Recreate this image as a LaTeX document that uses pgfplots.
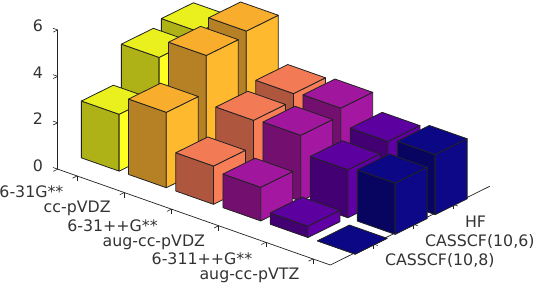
\documentclass[border=0pt]{standalone}
\usepackage{fontspec}
\setmainfont{DejaVu Sans}
\usepackage{pgfplots}
\pgfplotsset{compat=1.18}
\definecolor{txt}{gray}{0.2}
\definecolor{edge}{HTML}{222222}
% top / left (dark) / right (bright) colours per basis set
\definecolor{aT}{HTML}{EAF01E}\definecolor{aL}{HTML}{AEB216}\definecolor{aR}{HTML}{FFFF22}
\definecolor{bT}{HTML}{F8AE2C}\definecolor{bL}{HTML}{B68024}\definecolor{bR}{HTML}{FFB92F}
\definecolor{cT}{HTML}{F27A55}\definecolor{cL}{HTML}{AE573E}\definecolor{cR}{HTML}{F87E58}
\definecolor{dT}{HTML}{A0179E}\definecolor{dL}{HTML}{73106F}\definecolor{dR}{HTML}{A417A0}
\definecolor{eT}{HTML}{5D00A0}\definecolor{eL}{HTML}{430072}\definecolor{eR}{HTML}{6000A4}
\definecolor{fT}{HTML}{0B0785}\definecolor{fL}{HTML}{07055F}\definecolor{fR}{HTML}{0C0888}
\newcommand\onebar[4]{% x, y, height, colour prefix
  \pgfmathsetmacro\xa{#1-0.4}\pgfmathsetmacro\xb{#1+0.4}%
  \pgfmathsetmacro\ya{#2-0.4}\pgfmathsetmacro\yb{#2+0.4}%
  \addplot3[draw=edge,line width=0.8pt,line join=round,fill=#4L,forget plot] coordinates {(\xa,\ya,0) (\xb,\ya,0) (\xb,\ya,#3) (\xa,\ya,#3) (\xa,\ya,0)};
  \addplot3[draw=edge,line width=0.8pt,line join=round,fill=#4R,forget plot] coordinates {(\xb,\ya,0) (\xb,\yb,0) (\xb,\yb,#3) (\xb,\ya,#3) (\xb,\ya,0)};
  \addplot3[draw=edge,line width=0.8pt,line join=round,fill=#4T,forget plot] coordinates {(\xa,\ya,#3) (\xb,\ya,#3) (\xb,\yb,#3) (\xa,\yb,#3) (\xa,\ya,#3)};
}
\pgfplotsset{common/.style={
  at={(57.7pt,19pt)},anchor=south west,
  ymin=0.02,ymax=4.005,zmin=0,zmax=6,
  clip=false,
  axis line style={draw=edge,line width=0.7pt,-},
  tick style={draw=edge,line width=0.6pt},
  major tick length=5pt,
  tick align=outside,
  tick label style={font=\fontsize{15.8}{18}\selectfont,text=txt,inner sep=0pt},
  /pgf/number format/assume math mode=true,
}}
\begin{document}
\begin{tikzpicture}[x=1pt,y=1pt]
\path[use as bounding box] (0,0) rectangle (534,284);
% axis that carries the method axis along the front right edge
\begin{axis}[common,
  x={(-47.2pt,16.6pt)},y={(40pt,19.75pt)},z={(0pt,23.2pt)},
  xmin=0.59,xmax=6.365,
  axis x line=none,axis z line=none,axis y line*=left,
  xtick=\empty,ztick=\empty,
  ytick={1.09,2.09,3.09},
  yticklabels={{CASSCF(10,8)},{CASSCF(10,6)},HF},
  y tick label style={anchor=west,xshift=7pt,yshift=-15.5pt},
]
\end{axis}
\begin{axis}[common,
  x={(47.2pt,-16.6pt)},y={(40pt,19.75pt)},z={(0pt,23.2pt)},
  xmin=0.59,xmax=6.365,
  axis x line*=bottom,axis y line=none,axis z line*=left,
  ytick=\empty,
  xtick={1,2,3,4,5,6},
  xticklabels={6-31G**,cc-pVDZ,6-31++G**,aug-cc-pVDZ,6-311++G**,aug-cc-pVTZ},
  ztick={0,2,4,6},
  x tick label style={anchor=east,xshift=-9pt,yshift=-14pt},
  z tick label style={anchor=east,xshift=-10pt,yshift=6pt},
]
\onebar{1}{3}{4.30}{a}
\onebar{2}{3}{5.05}{b}
\onebar{3}{3}{3.07}{c}
\onebar{4}{3}{3.16}{d}
\onebar{5}{3}{2.44}{e}
\onebar{6}{3}{2.59}{f}
\onebar{1}{2}{4.05}{a}
\onebar{2}{2}{4.85}{b}
\onebar{3}{2}{2.77}{c}
\onebar{4}{2}{2.84}{d}
\onebar{5}{2}{2.07}{e}
\onebar{6}{2}{2.21}{f}
\onebar{1}{1}{2.45}{a}
\onebar{2}{1}{3.25}{b}
\onebar{3}{1}{1.65}{c}
\onebar{4}{1}{1.45}{d}
\onebar{5}{1}{0.49}{e}
\onebar{6}{1}{0.00}{f}
\end{axis}
\end{tikzpicture}
\end{document}
